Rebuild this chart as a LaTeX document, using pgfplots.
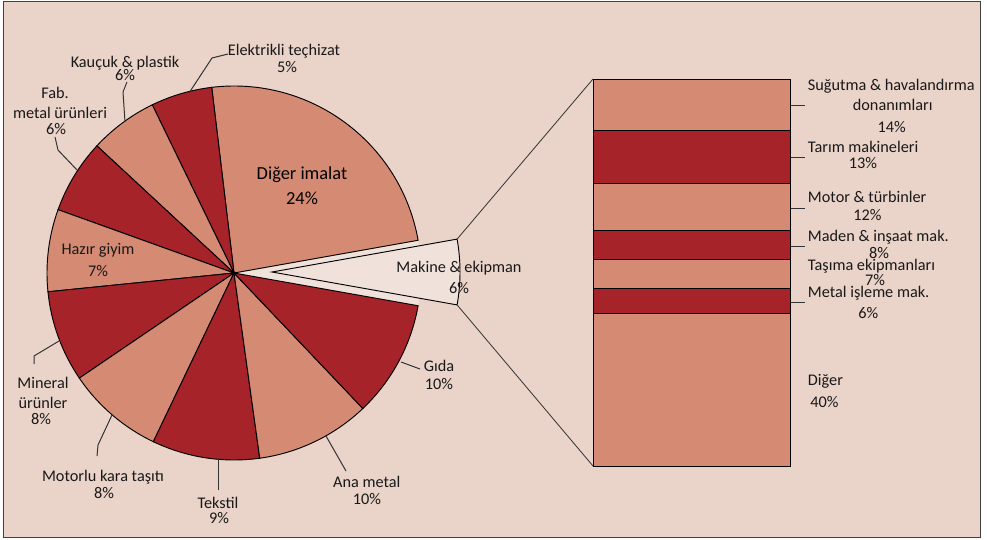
\documentclass[border=0pt]{standalone}
\usepackage{pgfplots}
\pgfplotsset{compat=1.18}
\usepackage{pgfplotstable}
\usepackage{fontspec}
\setmainfont{Carlito}
\definecolor{bg}{HTML}{EAD3C8}
\definecolor{sal}{HTML}{D48A73}
\definecolor{dred}{HTML}{A52329}
\definecolor{mk}{HTML}{F0E2DA}
\definecolor{ldr}{HTML}{333333}
\definecolor{frm}{HTML}{404040}

% pie: share of each sector (%), fill colour
\pgfplotstableread{
v c
5.6 mk
24.1 sal
5.3 dred
5.9 sal
6.4 dred
7.1 sal
7.9 dred
8.4 sal
9.3 dred
9.9 sal
10.1 dred
}\piedata

\newcommand{\lf}{\fontsize{12.2}{13}\selectfont}
\newcommand{\lb}[3]{\node[font=\lf, anchor=base, inner sep=0pt, text=black!90] at (axis cs:#1,#2) {#3};}
\newcommand{\lw}[3]{\node[font=\lf, anchor=base west, inner sep=0pt, text=black!90] at (axis cs:#1,#2) {#3};}

\begin{document}
\begin{tikzpicture}
\begin{axis}[name=main, x=0.75pt, y=0.75pt, xmin=0, xmax=987, ymin=0, ymax=539,
  y dir=reverse, hide axis, clip=false, scale only axis]
\fill[white] (axis cs:0,0) rectangle (axis cs:987,539);
\filldraw[fill=bg, draw=frm, line width=1.2pt] (axis cs:3.5,1.5) rectangle (axis cs:980.5,537.5);

\pgfplotstablegetelem{0}{v}\of\piedata
\pgfmathsetmacro\ang{10.08-3.6*\pgfplotsretval}
\pgfplotsforeachungrouped \i in {0,...,10}{%
  \pgfplotstablegetelem{\i}{v}\of\piedata \let\vv\pgfplotsretval
  \pgfplotstablegetelem{\i}{c}\of\piedata \let\cc\pgfplotsretval
  \pgfmathsetmacro\angb{\ang+3.6*\vv}%
  \ifnum\i=0
    \edef\doit{\noexpand\fill[mk] (axis cs:234,273) -- ++(\ang:140.25pt) arc[start angle=\ang,end angle=\angb,radius=140.25pt] -- cycle;
      \noexpand\filldraw[fill=mk,draw=black,line width=0.7pt] (axis cs:272,272) -- ++(\ang:141pt) arc[start angle=\ang,end angle=\angb,radius=141pt] -- cycle;
      \noexpand\draw[ldr, line width=0.6pt] (axis cs:272,272) ++(\angb:141pt) -- (axis cs:593,79);
      \noexpand\draw[ldr, line width=0.6pt] (axis cs:272,272) ++(\ang:141pt) -- (axis cs:593,466);}%
  \else
    \edef\doit{\noexpand\filldraw[fill=\cc,draw=black,line width=0.7pt] (axis cs:234,273) -- ++(\ang:140.25pt) arc[start angle=\ang,end angle=\angb,radius=140.25pt] -- cycle;}%
  \fi
  \doit
  \let\ang\angb
}

% leader lines
\draw[ldr, line width=0.75pt] (axis cs:228,54) -- (axis cs:212,58) -- (axis cs:189,93);
\draw[ldr, line width=0.75pt] (axis cs:127,82) -- (axis cs:123,92) -- (axis cs:125,122);
\draw[ldr, line width=0.75pt] (axis cs:55,137) -- (axis cs:58,150) -- (axis cs:77,170);
\draw[ldr, line width=0.75pt] (axis cs:34,364) -- (axis cs:34,356) -- (axis cs:59,341);
\draw[ldr, line width=0.75pt] (axis cs:97,456) -- (axis cs:98,445) -- (axis cs:112,415);
\draw[ldr, line width=0.75pt] (axis cs:218,458) -- (axis cs:218,490);
\draw[ldr, line width=0.75pt] (axis cs:326,436) -- (axis cs:346,471);
\draw[ldr, line width=0.75pt] (axis cs:401,362) -- (axis cs:420,369);
\draw[ldr, line width=0.75pt] (axis cs:790,105.7) -- (axis cs:805,105.7);
\draw[ldr, line width=0.75pt] (axis cs:790,157.7) -- (axis cs:805,157.7);
\draw[ldr, line width=0.75pt] (axis cs:790,208.3) -- (axis cs:805,208.3);
\draw[ldr, line width=0.75pt] (axis cs:790,246.7) -- (axis cs:805,246.7);
\draw[ldr, line width=0.75pt] (axis cs:790,302.7) -- (axis cs:805,302.7);

% pie labels
\node[font=\fontsize{13.8}{15}\selectfont, anchor=base, inner sep=0pt] at (axis cs:302,179) {Diğer imalat};
\node[font=\fontsize{13.8}{15}\selectfont, anchor=base, inner sep=0pt] at (axis cs:302,204) {24\%};
\lb{284}{55}{Elektrikli teçhizat}
\lb{287}{72}{5\%}
\lb{125}{67}{Kauçuk \& plastik}
\lb{125}{80}{6\%}
\lb{55}{98.5}{Fab.}
\lb{60}{118.5}{metal ürünleri}
\lb{56}{134.5}{6\%}
\lb{98}{254}{Hazır giyim}
\lb{98}{276}{7\%}
\lb{43}{388.5}{Mineral}
\lb{43}{408}{ürünler}
\lb{41}{424.5}{8\%}
\lb{103}{481}{Motorlu kara taşıtı}
\lb{104}{498.5}{8\%}
\lb{218}{508}{Tekstil}
\lb{219}{523}{9\%}
\lb{366.7}{487}{Ana metal}
\lb{367}{504.5}{10\%}
\lb{439}{371}{Gıda}
\lb{439}{389.5}{10\%}
\lb{459}{272}{Makine \& ekipman}
\lb{459}{293.5}{6\%}
% bar labels
\lw{807.7}{90.5}{Suğutma \& havalandırma}
\lb{892.7}{110.5}{donanımları}
\lb{891.7}{132.5}{14\%}
\lw{807.7}{152.5}{Tarım makineleri}
\lb{863}{168.5}{13\%}
\lw{807.7}{202.5}{Motor \& türbinler}
\lb{867.3}{220}{12\%}
\lw{807.7}{241}{Maden \& inşaat mak.}
\lb{879}{258}{8\%}
\lw{807.7}{270}{Taşıma ekipmanları}
\lb{875}{285}{7\%}
\lw{807.7}{297}{Metal işleme mak.}
\lb{868.3}{318.5}{6\%}
\lw{807.7}{385.5}{Diğer}
\lb{824.3}{407}{40\%}
\coordinate (barSW) at (axis cs:593,466);
\end{axis}

\begin{axis}[at={(barSW)}, anchor=south west, scale only axis,
  width=147.75pt, height=290.25pt, xmin=-0.5, xmax=0.5, ymin=0, ymax=100,
  y dir=reverse, hide axis, ybar stacked, bar width=147.75pt, clip=false]
\addplot[fill=sal, draw=black, line width=0.7pt] coordinates {(0,13.4)};
\addplot[fill=dred, draw=black, line width=0.7pt] coordinates {(0,13.6)};
\addplot[fill=sal, draw=black, line width=0.7pt] coordinates {(0,12.2)};
\addplot[fill=dred, draw=black, line width=0.7pt] coordinates {(0,7.4)};
\addplot[fill=sal, draw=black, line width=0.7pt] coordinates {(0,7.6)};
\addplot[fill=dred, draw=black, line width=0.7pt] coordinates {(0,6.4)};
\addplot[fill=sal, draw=black, line width=0.7pt] coordinates {(0,39.4)};
\end{axis}
\end{tikzpicture}
\end{document}
